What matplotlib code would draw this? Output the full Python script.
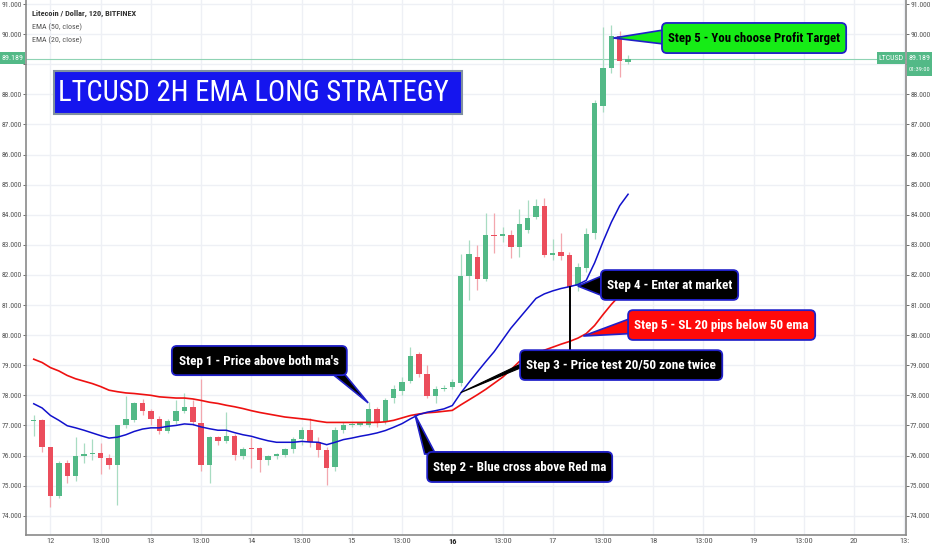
import matplotlib
matplotlib.use('Agg')
import matplotlib.pyplot as plt
from matplotlib import font_manager
from matplotlib.patches import FancyBboxPatch, Polygon, Rectangle

# 2h candles, x in hours from 11th 00:00
bar_hours = list(range(20, 164, 2))
opens = [77.14, 77.19, 76.28, 74.67, 75.75, 75.33, 75.99, 76.04, 76.10, 75.92,
         75.69, 77.00, 77.17, 77.73, 77.47, 77.22, 76.80, 77.14, 77.47, 77.62,
         77.08, 75.69, 76.60, 76.47, 76.64, 75.99, 76.25, 76.25, 75.84, 76.00,
         76.03, 76.21, 76.55, 76.84, 76.44, 76.17, 75.63, 76.86, 77.00, 77.03,
         77.03, 77.55, 77.12, 77.92, 78.16, 78.47, 79.36, 78.70, 77.97, 78.22,
         78.29, 78.40, 81.96, 82.58, 81.86, 83.33, 83.30, 83.33, 82.92, 83.49,
         83.93, 84.30, 82.66, 82.75, 82.66, 81.63, 82.22, 83.38, 87.61, 88.88,
         89.94, 89.06]
highs = [77.35, 77.22, 76.30, 75.82, 75.85, 76.62, 76.40, 76.55, 76.40, 76.05,
         77.03, 77.97, 77.78, 77.88, 77.55, 77.30, 77.20, 77.85, 78.08, 77.85,
         78.55, 76.65, 76.65, 77.45, 76.70, 76.30, 76.60, 76.30, 76.02, 76.10,
         76.25, 76.60, 76.95, 77.25, 76.60, 76.30, 76.95, 77.10, 77.10, 77.10,
         77.77, 77.62, 77.90, 78.35, 78.60, 79.59, 79.45, 79.00, 78.30, 78.35,
         78.55, 82.70, 83.16, 83.00, 84.07, 84.05, 83.60, 83.50, 84.18, 84.49,
         84.52, 84.55, 83.20, 83.40, 82.75, 82.40, 83.55, 87.80, 90.25, 90.30,
         90.10, 89.30]
lows = [76.65, 76.12, 74.30, 74.58, 75.08, 75.15, 75.75, 75.85, 75.40, 75.55,
        74.35, 76.90, 77.10, 77.35, 77.00, 76.72, 76.75, 77.05, 77.40, 77.00,
        75.50, 75.08, 76.35, 76.40, 75.85, 75.90, 75.60, 75.45, 75.70, 75.90,
        75.95, 76.10, 76.35, 76.30, 75.95, 75.02, 75.50, 76.75, 76.95, 76.98,
        76.95, 76.95, 77.05, 77.75, 78.00, 78.40, 78.60, 77.90, 77.75, 78.15,
        78.20, 78.30, 81.17, 81.50, 81.80, 82.72, 83.10, 82.55, 82.60, 83.40,
        83.85, 82.60, 82.50, 82.50, 81.45, 81.45, 82.10, 83.20, 87.40, 88.70,
        88.58, 89.02]
closes = [77.16, 76.28, 74.67, 75.75, 75.33, 75.99, 76.04, 76.07, 75.92, 75.69,
          77.00, 77.20, 77.73, 77.47, 77.22, 76.80, 77.14, 77.47, 77.62, 77.12,
          75.69, 76.60, 76.47, 76.64, 76.02, 76.22, 76.22, 75.84, 76.00, 76.03,
          76.21, 76.55, 76.86, 76.44, 76.19, 75.58, 76.84, 77.00, 77.02, 77.05,
          77.55, 77.12, 77.83, 78.20, 78.45, 79.31, 78.70, 77.97, 78.22, 78.25,
          78.44, 81.96, 82.69, 81.86, 83.33, 83.30, 83.36, 82.92, 83.69, 83.90,
          84.30, 82.66, 82.72, 82.63, 81.61, 82.25, 83.36, 87.72, 88.88, 89.94,
          89.10, 89.189]
ema50 = [79.20, 79.09, 78.92, 78.81, 78.66, 78.55, 78.47, 78.39, 78.29, 78.17,
         78.12, 78.08, 78.06, 78.03, 78.00, 77.95, 77.93, 77.91, 77.91, 77.88,
         77.83, 77.77, 77.73, 77.67, 77.62, 77.56, 77.49, 77.43, 77.38, 77.33,
         77.28, 77.25, 77.22, 77.19, 77.14, 77.10, 77.10, 77.10, 77.10, 77.10,
         77.10, 77.10, 77.12, 77.17, 77.25, 77.33, 77.38, 77.42, 77.44, 77.47,
         77.50, 77.68, 77.85, 78.02, 78.20, 78.40, 78.60, 78.85, 79.12, 79.28,
         79.40, 79.50, 79.60, 79.70, 79.79, 79.90, 80.05, 80.32, 80.68, 81.02,
         81.32, 81.60]
ema20 = [77.72, 77.58, 77.33, 77.17, 76.99, 76.92, 76.84, 76.75, 76.66, 76.58,
         76.61, 76.69, 76.80, 76.88, 76.92, 76.92, 76.97, 77.00, 77.05, 77.03,
         76.95, 76.89, 76.84, 76.84, 76.76, 76.69, 76.64, 76.56, 76.49, 76.44,
         76.44, 76.44, 76.47, 76.45, 76.44, 76.36, 76.44, 76.53, 76.58, 76.64,
         76.69, 76.75, 76.83, 76.94, 77.06, 77.22, 77.36, 77.44, 77.49, 77.55,
         77.66, 78.07, 78.43, 78.78, 79.12, 79.45, 79.84, 80.23, 80.56, 80.89,
         81.22, 81.37, 81.47, 81.55, 81.61, 81.68, 81.82, 82.40, 83.10, 83.75,
         84.30, 84.68]
last_price = 89.189

x_ticks = list(range(24, 229, 12))
x_labels = ['12', '13:00', '13', '13:00', '14', '13:00', '15', '13:00', '16', '13:00',
            '17', '13:00', '18', '13:00', '19', '13:00', '20', '13:']
y_ticks = list(range(74, 92))

# fonts: narrow one if we have it
names = {f.name for f in font_manager.fontManager.ttflist}
narrow = [n for n in ['Liberation Sans Narrow', 'DejaVu Sans Condensed', 'Roboto Condensed'] if n in names]
FONT = narrow[0] if narrow else 'Liberation Sans'
plt.rcParams['font.family'] = [FONT, 'DejaVu Sans']

UP = '#53b987'
DOWN = '#eb4d5c'
W, H = 932, 550

fig = plt.figure(figsize=(W / 100, H / 100), dpi=100)
ax = fig.add_axes([26 / W, 15 / H, 880 / W, 535 / H])
ax.set_xlim(18.15, 228.4)
ax.set_ylim(73.36, 91.133)

ax.spines['top'].set_visible(False)
for s in ['left', 'right', 'bottom']:
    ax.spines[s].set_color('#8a8a8a')
    ax.spines[s].set_linewidth(1.2)

ax.set_yticks(y_ticks)
ax.set_yticklabels(['' if v == 89 else '%.3f' % v for v in y_ticks])
ax.tick_params(axis='y', left=True, right=True, labelleft=True, labelright=True,
               labelsize=5.4, colors='#555555', length=2, width=0.6, pad=1)
ax.set_xticks(x_ticks)
ax.set_xticklabels(x_labels)
ax.tick_params(axis='x', labelsize=6, colors='#555555', length=0, pad=2)
for lab in ax.get_xticklabels():
    if lab.get_text() == '16':
        lab.set_fontweight('bold')
        lab.set_color('#222222')
ax.grid(True, color='#eef0f5', lw=1.0)
ax.set_axisbelow(True)

# candles
for h, o, hi, lo, c in zip(bar_hours, opens, highs, lows, closes):
    col = UP if c >= o else DOWN
    wick = '#a8dcc2' if c >= o else '#f3a7ae'
    ax.vlines(h, lo, hi, color=wick, lw=0.9, zorder=2)
    body = max(abs(c - o), 0.04)
    ax.bar(h, body, bottom=min(o, c), width=1.3, color=col, zorder=3)

ax.plot(bar_hours, ema50, color='#ee1111', lw=1.2, zorder=4)
ax.plot(bar_hours, ema20, color='#1111cc', lw=1.1, zorder=4)
ax.axhline(last_price, color='#8fd3b4', lw=0.8, zorder=1)

renderer = fig.canvas.get_renderer()


def fit(t, width_px):
    w = t.get_window_extent(renderer=renderer).width
    t.set_fontsize(t.get_fontsize() * width_px / w)


ASP = (1 / 30.1) / (1 / 4.185)
EDGE = '#2020c8'


def callout(x0, x1, y0, y1, wedge, face, text, tcolor, width_px):
    if wedge is not None:
        ax.add_patch(Polygon(wedge, closed=True, fc=face, ec=EDGE, lw=1.2, zorder=6))
    ax.add_patch(FancyBboxPatch((x0, y0), x1 - x0, y1 - y0,
                                boxstyle='round,pad=0,rounding_size=1.2',
                                mutation_aspect=ASP, fc=face, ec=EDGE, lw=1.3, zorder=7))
    t = ax.text((x0 + x1) / 2, (y0 + y1) / 2 - 0.02, text, color=tcolor, fontsize=9,
                fontweight='bold', ha='center', va='center', zorder=8)
    fit(t, width_px)


callout(53.0, 94.8, 78.67, 79.64,
        [(99.9, 77.75), (91.0, 78.75), (94.0, 78.75)],
        'black', "Step 1 - Price above both ma's", 'white', 160)
callout(114.0, 158.2, 75.12, 76.12,
        [(111.1, 77.35), (113.4, 76.05), (116.0, 76.05)],
        'black', 'Step 2 - Blue cross above Red ma', 'white', 173)
# step 3 has two black pointers
ax.add_patch(Polygon([(122.0, 78.09), (136.5, 79.05), (136.5, 78.92)], closed=True,
                     fc='black', ec='black', lw=0.8, zorder=6))
ax.plot([148.1, 148.1], [81.6, 79.4], color='black', lw=1.4, zorder=6)
callout(136.2, 184.5, 78.51, 79.50, None,
        'black', 'Step 3 - Price test 20/50 zone twice', 'white', 190)
callout(155.5, 188.3, 81.17, 82.16,
        [(150.0, 81.63), (156.0, 81.98), (156.0, 81.30)],
        'black', 'Step 4 - Enter at market', 'white', 125)
callout(162.0, 206.7, 79.84, 80.83,
        [(151.3, 79.97), (162.5, 80.55), (162.5, 80.05)],
        '#ff0a0a', 'Step 5 - SL 20 pips below 50 ema', 'white', 175)
callout(170.1, 214.1, 89.37, 90.37,
        [(158.5, 89.87), (170.6, 90.14), (170.6, 89.67)],
        '#16ec16', 'Step 5 - You choose Profit Target', 'black', 171)


def px(x, y):
    return x / W, 1 - y / H


# title box
fig.patches.append(Rectangle(px(54, 114), 408 / W, 43 / H, transform=fig.transFigure,
                             fc='#1515ee', ec='#8090a0', lw=1.5, zorder=9))
tt = fig.text(*px(253, 93), 'LTCUSD 2H EMA LONG STRATEGY', color='white', fontsize=22,
              ha='center', va='center', zorder=10)
fit(tt, 390)

# legend text
t1 = fig.text(*px(32, 13), 'Litecoin / Dollar, 120, BITFINEX', color='#333333',
              fontsize=7.5, fontweight='bold', ha='left', va='center')
fit(t1, 103)
t2 = fig.text(*px(32, 27), 'EMA (50, close)', color='#555555', fontsize=7.5, ha='left', va='center')
fit(t2, 50)
t3 = fig.text(*px(32, 40), 'EMA (20, close)', color='#555555', fontsize=7.5, ha='left', va='center')
fit(t3, 50)


# price labels on the axes
def tag(x0, x1, y0, y1, text):
    fig.patches.append(Rectangle(px(x0, y1), (x1 - x0) / W, (y1 - y0) / H,
                                 transform=fig.transFigure, fc=UP, ec='none', zorder=9))
    t = fig.text(*px((x0 + x1) / 2, (y0 + y1) / 2), text, color='white', fontsize=6,
                 ha='center', va='center', zorder=10)
    fit(t, x1 - x0 - 3)


tag(877, 905, 52, 64, 'LTCUSD')
tag(907, 932, 52, 64, '%.3f' % last_price)
tag(907, 932, 64, 76, '01:39:00')
tag(0, 25, 52, 64, '%.3f' % last_price)

fig.savefig('out.png', dpi=100)
